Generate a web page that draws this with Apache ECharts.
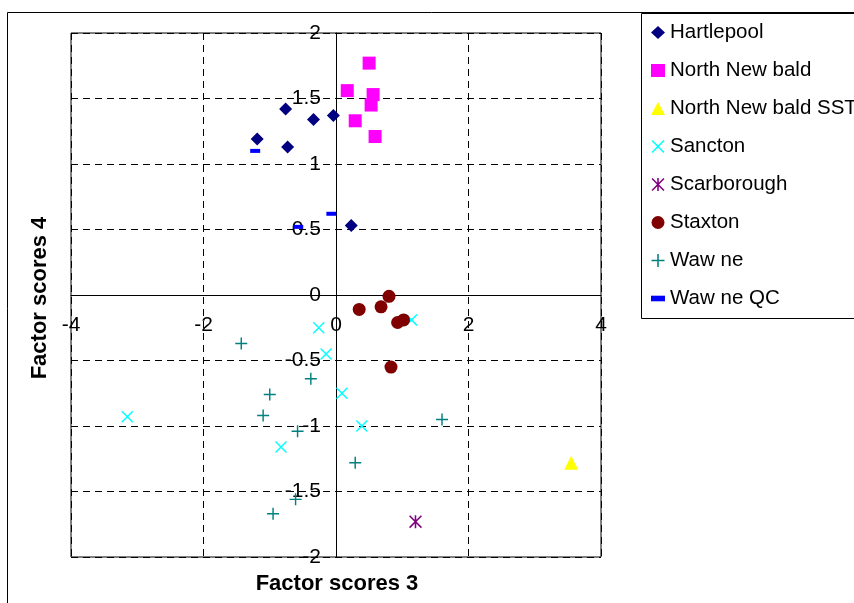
<!DOCTYPE html>
<html>
<head>
<meta charset="utf-8">
<script src="https://cdn.jsdelivr.net/npm/echarts@6/dist/echarts.min.js"></script>
<style>
  html, body { margin: 0; padding: 0; background: #fff; }
  #chart { width: 854px; height: 603px; }
</style>
</head>
<body>
<div id="chart"></div>
<script>
// factor scores, [score 3, score 4]
const hartlepool = [[-0.76, 1.42], [-0.34, 1.34], [-0.04, 1.37], [-1.19, 1.19], [-0.73, 1.13], [0.23, 0.53]]
const northNewbald = [[0.50, 1.77], [0.17, 1.56], [0.56, 1.53], [0.53, 1.45], [0.29, 1.33], [0.59, 1.21]]
const northNewbaldSST = [[3.55, -1.28]]
const sancton = [[-0.26, -0.25], [-0.15, -0.45], [0.09, -0.75], [-3.15, -0.93], [-0.83, -1.16], [1.14, -0.19], [0.39, -1.0]]
const scarborough = [[1.20, -1.73]]
const staxton = [[0.80, -0.01], [0.35, -0.11], [0.68, -0.09], [1.02, -0.19], [0.93, -0.21], [0.83, -0.55]]
const wawne = [[-1.43, -0.37], [-0.38, -0.64], [-1.0, -0.76], [-1.10, -0.92], [-0.58, -1.04], [-0.61, -1.56], [-0.95, -1.67], [1.60, -0.95], [0.29, -1.28]]
const wawneQC = [[-1.22, 1.10], [-0.07, 0.62], [-0.57, 0.52]]

const xRange = [-4, 4]
const yRange = [-2, 2]

// marker shapes drawn as thin filled bars
const plusPath = 'path://M8.8,0H11.2V20H8.8Z M0,8.8H20V11.2H0Z'
const crossPath = 'path://M0,1.7L1.7,0L20,18.3L18.3,20Z M18.3,0L20,1.7L1.7,20L0,18.3Z'
const starPath = 'path://M0,1.7L1.7,0L20,18.3L18.3,20Z M18.3,0L20,1.7L1.7,20L0,18.3Z M8.8,0H11.2V20H8.8Z'
const dashPath = 'path://M0,0H10V4H0Z'

const font = '"Liberation Sans", Arial, sans-serif'

// plot box in pixels; axes cross at 0 like the excel chart
const box = { left: 71, right: 601, top: 33, bottom: 557 }

function mk (name, data, symbol, size, color) {
  return {
    name: name,
    type: 'scatter',
    data: data,
    symbol: symbol,
    symbolSize: size,
    symbolKeepAspect: true,
    itemStyle: { color: color, opacity: 1 },
    emphasis: { disabled: true }
  }
}

const chart = echarts.init(document.getElementById('chart'))
chart.setOption({
  animation: false,
  textStyle: { fontFamily: font },
  grid: {
    left: box.left, right: 854 - box.right, top: box.top, bottom: 603 - box.bottom,
    show: true, borderColor: '#000', borderWidth: 1
  },
  legend: {
    orient: 'vertical',
    left: 651,
    top: 22,
    padding: 0,
    itemWidth: 14,
    itemHeight: 13,
    itemGap: 17,
    symbolKeepAspect: true,
    textStyle: { fontSize: 20.5, color: '#000', fontFamily: font },
    selectedMode: false
  },
  xAxis: {
    type: 'value',
    min: xRange[0], max: xRange[1], interval: 2,
    position: 'bottom',
    // move the axis up to y = 0
    offset: -(box.bottom - box.top) * (0 - yRange[0]) / (yRange[1] - yRange[0]),
    axisLine: { onZero: false, lineStyle: { color: '#000', width: 1 } },
    axisTick: { show: false },
    axisLabel: { fontSize: 21, color: '#000', margin: 20, fontFamily: font },
    splitLine: { lineStyle: { color: '#000', type: [7, 5], width: 1 } }
  },
  yAxis: {
    type: 'value',
    min: yRange[0], max: yRange[1], interval: 0.5,
    position: 'left',
    // move the axis right to x = 0
    offset: -(box.right - box.left) * (0 - xRange[0]) / (xRange[1] - xRange[0]),
    axisLine: { onZero: false, lineStyle: { color: '#000', width: 1 } },
    axisTick: { show: false },
    axisLabel: { fontSize: 21, color: '#000', margin: 15, fontFamily: font },
    splitLine: { lineStyle: { color: '#000', type: [7, 5], width: 1 } }
  },
  graphic: [
    { type: 'rect', shape: { x: 7.5, y: 12.5, width: 900, height: 700 }, style: { fill: null, stroke: '#000', lineWidth: 1 }, z: -10 },
    { type: 'rect', shape: { x: 641.5, y: 13.5, width: 300, height: 305 }, style: { fill: '#fff', stroke: '#000', lineWidth: 1 }, z: -5 },
    { type: 'text', x: 337, y: 584, style: { text: 'Factor scores 3', font: 'bold 22px ' + font, fill: '#000', align: 'center', verticalAlign: 'middle' } },
    { type: 'text', x: 40, y: 298, rotation: Math.PI / 2, style: { text: 'Factor scores 4', font: 'bold 22px ' + font, fill: '#000', align: 'center', verticalAlign: 'middle' } }
  ],
  series: [
    mk('Hartlepool', hartlepool, 'diamond', 13, '#000080'),
    mk('North New bald', northNewbald, 'rect', 13, '#FF00FF'),
    mk('North New bald SST', northNewbaldSST, 'triangle', 14, '#FFFF00'),
    mk('Sancton', sancton, crossPath, 12, '#00FFFF'),
    mk('Scarborough', scarborough, starPath, 13, '#800080'),
    mk('Staxton', staxton, 'circle', 13, '#800000'),
    mk('Waw ne', wawne, plusPath, 12, '#008080'),
    mk('Waw ne QC', wawneQC, dashPath, 10, '#0000FF')
  ]
})
</script>
</body>
</html>
